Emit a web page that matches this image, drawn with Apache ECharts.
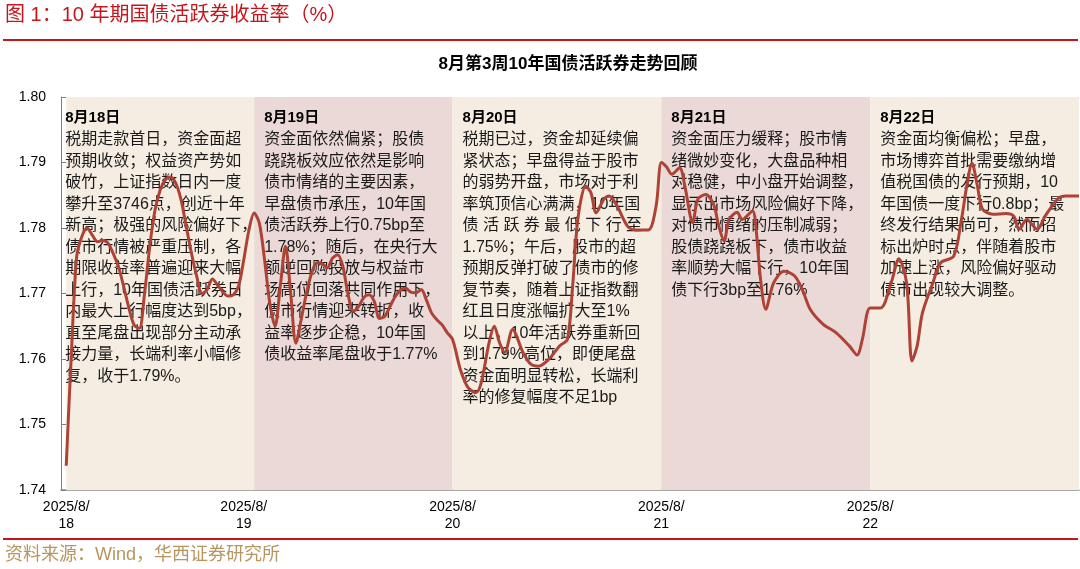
<!DOCTYPE html>
<html><head><meta charset="utf-8">
<script src="https://cdn.jsdelivr.net/npm/echarts@6/dist/echarts.min.js"></script>
<style>html,body{margin:0;padding:0;background:#fff}#c{width:1080px;height:569px}</style>
</head><body><div id="c"></div>
<script>
// ---- data ----
// x = intraday time slot (days are 72/76/80/80/80 slots long), y = 10Y active bond yield (%)
const d18 = [[0,1.7437],[2,1.7610],[4,1.7756],[6,1.7787],[8,1.7800],[10,1.7789],[12,1.7779],[14,1.7781],[16,1.7777],[18,1.7761],[20,1.7741],[22,1.7711],[24,1.7678],[26,1.7652],[28,1.7647],[30,1.7700],[32,1.7772],[34,1.7827],[36,1.7858],[38,1.7874],[40,1.7878],[42,1.7868],[44,1.7843],[46,1.7802],[48,1.7761],[50,1.7726],[52,1.7700],[54,1.7706],[56,1.7722],[58,1.7713],[60,1.7702],[62,1.7696],[64,1.7698],[66,1.7711],[68,1.7751],[70,1.7797]];
const d19 = [[72,1.7823],[74,1.7807],[76,1.7751],[78,1.7685],[80,1.7650],[82,1.7711],[84,1.7772],[86,1.7700],[88,1.7624],[90,1.7660],[92,1.7700],[94,1.7731],[96,1.7747],[98,1.7746],[100,1.7739],[102,1.7754],[104,1.7759],[106,1.7741],[108,1.7698],[110,1.7673],[112,1.7680],[114,1.7694],[116,1.7698],[118,1.7688],[120,1.7662],[122,1.7665],[124,1.7680],[126,1.7695],[128,1.7705],[130,1.7708],[132,1.7702],[134,1.7701],[136,1.7706],[138,1.7690],[140,1.7670],[142,1.7660],[144,1.7652],[146,1.7640]];
const d20 = [[148,1.7630],[151,1.7584],[154,1.7556],[157,1.7549],[159,1.7564],[162,1.7625],[164,1.7650],[166,1.7625],[168,1.7610],[171,1.7645],[175,1.7610],[178,1.7592],[181,1.7589],[185,1.7600],[189,1.7620],[192,1.7630],[194,1.7711],[196,1.7813],[199,1.7864],[201,1.7854],[203,1.7823],[206,1.7844],[208,1.7849],[211,1.7834],[215,1.7803],[218,1.7797],[223,1.7797],[226,1.7834]];
const d21 = [[228,1.7900],[230,1.7893],[232,1.7882],[235,1.7892],[237,1.7864],[240,1.7808],[242,1.7844],[245,1.7851],[248,1.7836],[250,1.7803],[252,1.7780],[254,1.7813],[257,1.7824],[259,1.7813],[263,1.7826],[264,1.7810],[266,1.7722],[268,1.7676],[271,1.7716],[275,1.7734],[279,1.7727],[282,1.7706],[285,1.7676],[290,1.7653],[295,1.7640],[300,1.7620],[303,1.7606],[305,1.7630]];
const d22 = [[308,1.7678],[312,1.7678],[316,1.7716],[319,1.7753],[322,1.7715],[324,1.7597],[326,1.7620],[328,1.7670],[332,1.7716],[335,1.7747],[340,1.7757],[343,1.7814],[345,1.7864],[347,1.7899],[349,1.7866],[351,1.7829],[355,1.7821],[360,1.7822],[363,1.7818],[365,1.7798],[368,1.7813],[372,1.7798],[375,1.7818],[380,1.7845],[383,1.7849],[388,1.7849]];

const dayStart = [0, 72, 148, 228, 308];
const dayEnd   = [72, 148, 228, 308, 388];
const xLabelSlot = [0, 68, 148, 228, 308];
const xLabels = ['2025/8/\n18', '2025/8/\n19', '2025/8/\n20', '2025/8/\n21', '2025/8/\n22'];
const yMin = 1.74, yMax = 1.80, yStep = 0.01;

const dayTitles = ['8月18日', '8月19日', '8月20日', '8月21日', '8月22日'];
const dayNotes = [
  ['税期走款首日，资金面超','预期收敛；权益资产势如','破竹，上证指数日内一度','攀升至3746点，创近十年','新高；极强的风险偏好下，','债市行情被严重压制，各','期限收益率普遍迎来大幅','上行，10年国债活跃券日','内最大上行幅度达到5bp，','直至尾盘出现部分主动承','接力量，长端利率小幅修','复，收于1.79%。'],
  ['资金面依然偏紧；股债','跷跷板效应依然是影响','债市情绪的主要因素，','早盘债市承压，10年国','债活跃券上行0.75bp至','1.78%；随后，在央行大','额逆回购投放与权益市','场高位回落共同作用下，','债市行情迎来转折，收','益率逐步企稳，10年国','债收益率尾盘收于1.77%'],
  ['税期已过，资金却延续偏','紧状态；早盘得益于股市','的弱势开盘，市场对于利','率筑顶信心满满，10年国','债 活 跃 券 最 低 下 行 至','1.75%；午后，股市的超','预期反弹打破了债市的修','复节奏，随着上证指数翻','红且日度涨幅扩大至1%','以上，10年活跃券重新回','到1.79%高位，即便尾盘','资金面明显转松，长端利','率的修复幅度不足1bp'],
  ['资金面压力缓释；股市情','绪微妙变化，大盘品种相','对稳健，中小盘开始调整，','显示出市场风险偏好下降，','对债市情绪的压制减弱；','股债跷跷板下，债市收益','率顺势大幅下行，10年国','债下行3bp至1.76%'],
  ['资金面均衡偏松；早盘，','市场博弈首批需要缴纳增','值税国债的发行预期，10','年国债一度下行0.8bp；最','终发行结果尚可，然而招','标出炉时点，伴随着股市','加速上涨，风险偏好驱动','债市出现较大调整。']
];

// ---- styles ----
const bandColors = ['#F5EDE1', '#EAD9D6', '#F5EDE1', '#EAD9D6', '#F5EDE1'];
const FONT = '"Liberation Sans","Noto Sans CJK SC",sans-serif';
const lineData = [].concat(d18, d19, d20, d21, d22);

const areas = dayStart.map((s, i) => [
  {
    xAxis: s,
    itemStyle: { color: bandColors[i] },
    label: {
      show: true, position: 'insideTopLeft', distance: 0,
      offset: [i === 0 ? -1 : 10, 10],
      formatter: '{t|' + dayTitles[i] + '}\n' + dayNotes[i].map(l => '{b|' + l + '}').join('\n'),
      rich: {
        t: { fontSize: 15, fontWeight: 'bold', lineHeight: 22, color: '#000', fontFamily: FONT },
        b: { fontSize: 16, lineHeight: 21.5, color: '#1a1a1a', fontFamily: FONT }
      }
    }
  },
  { xAxis: dayEnd[i] }
]);

const chart = echarts.init(document.getElementById('c'), null, { renderer: 'canvas', width: 1080, height: 569 });
chart.setOption({
  animation: false,
  backgroundColor: '#fff',
  grid: { left: 61, right: 1, top: 97, bottom: 79, containLabel: false },
  xAxis: {
    type: 'value', min: -2, max: 388,
    axisLine: { show: true, onZero: false, lineStyle: { color: '#8c8c8c', width: 1.5 } },
    axisTick: { show: false },
    splitLine: { show: false },
    axisLabel: {
      customValues: xLabelSlot,
      formatter: v => { const k = xLabelSlot.indexOf(v); return k >= 0 ? xLabels[k] : ''; },
      color: '#000', fontSize: 14, lineHeight: 17, fontFamily: '"Liberation Sans",sans-serif', margin: 9
    }
  },
  yAxis: {
    type: 'value', min: yMin, max: yMax, interval: yStep,
    axisLine: { show: true, onZero: false, lineStyle: { color: '#7f7f7f', width: 1 } },
    axisTick: { show: true, inside: true, length: 5, lineStyle: { color: '#7f7f7f' } },
    splitLine: { show: false },
    axisLabel: { formatter: v => v.toFixed(2), color: '#000', fontSize: 14, fontFamily: '"Liberation Sans",sans-serif', margin: 15 }
  },
  series: [
    {
      type: 'line', z: 1, silent: true, data: lineData, symbol: 'none',
      lineStyle: { opacity: 0 },
      markArea: { silent: true, data: areas }
    },
    {
      type: 'line', z: 3, data: lineData, symbol: 'none', smooth: 0.3,
      lineStyle: { color: '#AE4234', width: 3 }
    }
  ],
  graphic: [
    { type: 'text', x: 5, y: 15, style: { text: '图 1：10 年期国债活跃券收益率（%）', fill: '#C4161C', fontSize: 20, fontFamily: FONT, verticalAlign: 'middle', textVerticalAlign: 'middle' } },
    { type: 'rect', shape: { x: 3, y: 39, width: 1075, height: 2 }, style: { fill: '#C4161C' } },
    { type: 'text', x: 568, y: 64, style: { text: '8月第3周10年国债活跃券走势回顾', fill: '#000', fontSize: 17, fontWeight: 'bold', fontFamily: FONT, align: 'center', textAlign: 'center', verticalAlign: 'middle', textVerticalAlign: 'middle' } },
    { type: 'rect', shape: { x: 3, y: 538, width: 1075, height: 2 }, style: { fill: '#C4161C' } },
    { type: 'text', x: 5, y: 555, style: { text: '资料来源：Wind，华西证券研究所', fill: '#B8955F', fontSize: 18, fontFamily: FONT, verticalAlign: 'middle', textVerticalAlign: 'middle' } }
  ]
});
</script>
</body></html>
